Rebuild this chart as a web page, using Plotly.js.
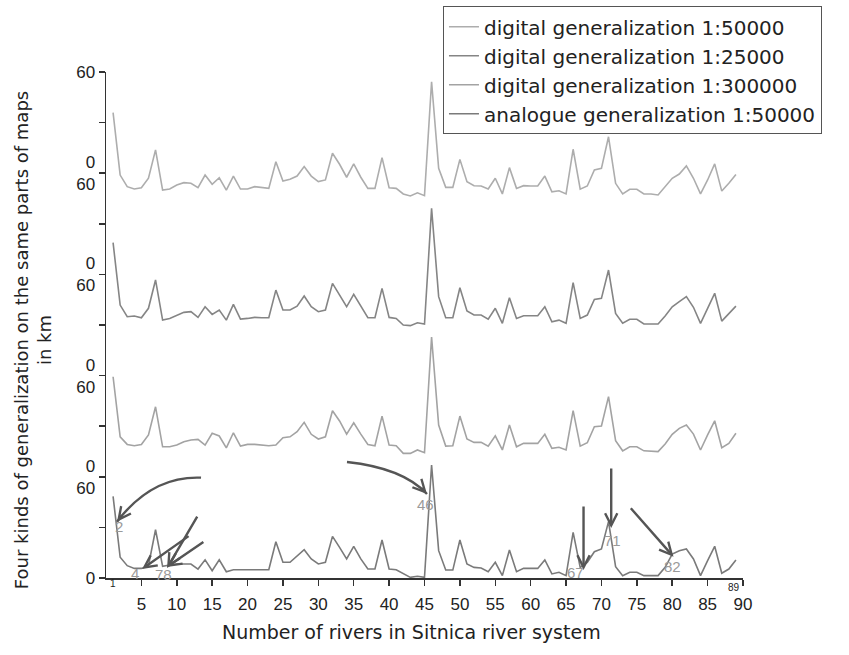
<!DOCTYPE html>
<html><head><meta charset="utf-8">
<script src="https://cdn.plot.ly/plotly-3.0.1.min.js"></script>
<style>html,body{margin:0;padding:0;background:#fff}#chart{width:849px;height:655px}</style>
</head><body><div id="chart"></div>
<script>
// ---- data ----
const rivers = [1,2,3,4,5,6,7,8,9,10,11,12,13,14,15,16,17,18,19,20,21,22,23,24,25,26,27,28,29,30,
  31,32,33,34,35,36,37,38,39,40,41,42,43,44,45,46,47,48,49,50,51,52,53,54,55,56,57,58,59,60,
  61,62,63,64,65,66,67,68,69,70,71,72,73,74,75,76,77,78,79,80,81,82,83,84,85,86,87,88,89];
const digital50000 = [50.6,13.6,6.7,5.3,6.1,11.7,28.5,4.7,5.3,7.7,
  9.1,8.7,6.1,13.6,8.1,12.0,4.7,13.0,5.3,5.3,
  6.7,6.3,5.7,21.5,10.1,11.1,13.0,18.6,13.0,9.7,
  10.7,26.5,20.0,12.3,20.2,12.3,5.7,5.7,23.9,6.1,
  5.7,2.4,1.2,3.1,1.4,68.9,17.6,6.3,6.3,22.9,
  9.7,7.3,7.1,5.3,11.7,2.4,18.0,5.7,7.3,7.1,
  7.1,13.0,3.7,4.3,2.4,28.9,5.2,7.1,16.6,17.6,
  36.3,8.7,2.4,5.2,5.2,2.4,2.4,1.8,6.7,11.7,
  14.2,19.0,11.7,2.4,10.7,20.2,4.1,8.7,14.0];
const digital25000 = [50.6,13.6,6.7,7.1,6.1,11.7,28.5,4.7,5.7,7.7,
  9.3,9.7,6.3,12.6,8.1,10.7,4.7,14.0,5.3,5.7,
  6.3,6.1,6.1,22.5,10.7,10.7,13.0,19.0,12.6,9.7,
  10.7,26.5,19.6,12.6,20.0,13.0,6.1,6.1,23.5,6.3,
  5.7,1.8,1.4,3.1,2.4,71.0,18.6,6.1,6.1,23.9,
  10.1,7.7,7.7,5.3,11.7,2.8,18.0,5.7,7.3,7.3,
  7.3,12.6,3.7,4.7,2.8,26.9,5.7,7.7,17.0,17.6,
  34.4,8.7,2.8,5.2,5.2,2.4,2.4,2.4,7.1,12.6,
  15.6,18.6,12.3,2.8,11.7,20.6,4.1,8.7,13.0];
const digital300000 = [46.4,10.8,6.3,5.5,6.3,11.9,28.6,4.9,4.9,5.9,
  7.9,8.9,9.3,5.9,12.9,11.3,4.3,13.2,5.3,6.3,
  6.3,5.9,5.5,5.9,10.3,10.8,13.8,19.4,12.3,9.5,
  10.8,26.3,20.2,12.4,19.1,12.4,6.3,5.5,23.1,5.9,
  5.5,1.0,1.0,3.0,1.4,70.0,17.8,5.3,5.5,23.1,
  9.5,7.5,7.5,5.3,11.4,3.0,17.8,4.9,6.9,6.9,
  6.9,12.3,4.0,4.6,3.0,26.3,5.3,7.3,16.8,17.2,
  34.6,8.5,2.5,4.9,4.9,2.5,2.4,2.0,6.5,12.3,
  15.8,17.8,12.4,3.0,11.9,20.3,4.3,6.9,12.9];
const analogue50000 = [48.4,12.3,7.3,5.7,5.7,7.3,28.6,6.9,7.7,8.3,
  8.3,8.3,5.3,10.8,4.3,10.8,3.7,4.9,4.9,4.9,
  4.9,4.9,4.9,21.5,9.3,9.3,13.2,16.8,11.3,8.3,
  9.3,24.7,18.2,11.3,18.8,11.3,5.3,5.3,22.5,5.3,
  4.9,2.4,0.4,1.0,0.4,67.0,16.2,4.7,4.7,22.5,
  8.3,6.3,5.9,3.7,9.3,1.4,16.6,3.7,5.7,5.7,
  5.7,10.7,2.4,3.4,1.4,27.1,6.3,9.3,15.6,17.2,
  33.4,6.7,1.4,3.4,3.4,1.4,1.4,1.4,6.3,14.2,
  16.2,17.2,11.3,1.4,10.3,18.8,2.8,5.3,10.7];
const seriesNames = ['digital generalization 1:50000','digital generalization 1:25000',
  'digital generalization 1:300000','analogue generalization 1:50000'];
const xTickVals = [5,10,15,20,25,30,35,40,45,50,55,60,65,70,75,80,85,90];
const yTickVals = [0,30,60,90,120,150,180,210,240,270,300];
const yTickText = ['0','','0<br>60','','0<br>60','','0<br>60','','0<br>60','','60'];
const markedRivers = ['2','4','78','46','67','71','82'];
const xTitle = 'Number of rivers in Sitnica river system';
const yTitle = 'Four kinds of generalization on the same parts of maps<br>in km';

// ---- style / layout constants ----
const seriesData = [digital50000, digital25000, digital300000, analogue50000];
const seriesColors = ['#adadad', '#858585', '#a3a3a3', '#7a7a7a'];
const stackOffset = [225.3, 148.2, 72.9, 0];   // baseline of each curve in main-axis units
const SPAN = 300;
const ARROW = '#555555';
const LABEL = '#9a9a9a';

const traces = seriesData.map((vals, k) => ({
  type: 'scatter', mode: 'lines', x: rivers, y: vals, name: seriesNames[k],
  xaxis: 'x', yaxis: 'y' + (k + 2),
  line: {color: seriesColors[k], width: 1.6}
}));

const layout = {
  width: 849, height: 655,
  margin: {l: 106, r: 106, t: 72, b: 77, autoexpand: false},
  paper_bgcolor: '#fff', plot_bgcolor: '#fff',
  font: {family: 'Liberation Sans, Arial, sans-serif', color: '#222'},
  showlegend: true,
  legend: {x: 0.529, y: 1.13, xanchor: 'left', yanchor: 'top',
    bgcolor: '#fff', bordercolor: '#555', borderwidth: 1,
    font: {family: 'DejaVu Sans, sans-serif', size: 20, color: '#222'},
    tracegroupgap: 0},
  xaxis: {range: [0, 90], tickvals: xTickVals, showline: true, linecolor: '#333', linewidth: 1.5,
    ticks: 'outside', ticklen: 6, tickwidth: 1.5, tickcolor: '#333', showgrid: false, zeroline: false,
    ticklabelstandoff: 4, tickfont: {size: 17, color: '#222'}},
  yaxis: {range: [0, SPAN], tickvals: yTickVals, ticktext: yTickText, showline: true, linecolor: '#333',
    linewidth: 1.5, ticks: 'outside', ticklen: 6, tickwidth: 1.5, tickcolor: '#333', showgrid: false,
    zeroline: false, tickfont: {size: 17, color: '#222'}},
  annotations: [], shapes: []
};
stackOffset.forEach((off, k) => {
  layout['yaxis' + (k + 2)] = {overlaying: 'y', range: [-off, SPAN - off], visible: false, fixedrange: true};
});

// straight arrows: [headX, headY(main units), tail dx px, tail dy px]
const straightArrows = [[8.63, 5.9, 31, -53], [5.1, 5.3, 48, -34], [8.6, 6.5, 38, -26],
  [67.47, 4.7, 0, -65], [71.38, 29.6, 0, -61], [80.18, 12.6, -44, -50]];
straightArrows.forEach(a => layout.annotations.push({x: a[0], y: a[1], xref: 'x', yref: 'y', ax: a[2], ay: a[3],
  text: '', showarrow: true, arrowhead: 5, arrowsize: 1, arrowwidth: 2.4, arrowcolor: ARROW, standoff: 0}));

// curved arrows: [headX, headY, tail dx, tail dy, ctrl dx, ctrl dy] (screen px, y down)
const curvedArrows = [[1.56, 33.4, 84, -44, 35, -46], [45.35, 49.8, -80, -32, -24, -26]];
curvedArrows.forEach(c => {
  layout.shapes.push({type: 'path', xref: 'x', yref: 'y', xsizemode: 'pixel', ysizemode: 'pixel',
    xanchor: c[0], yanchor: c[1], path: `M${c[2]},${-c[3]} Q${c[4]},${-c[5]} 0,0`,
    line: {color: ARROW, width: 2.4}});
  const n = Math.hypot(c[4], c[5]);
  layout.annotations.push({x: c[0], y: c[1], xref: 'x', yref: 'y', ax: c[4] / n * 10, ay: c[5] / n * 10,
    text: '', showarrow: true, arrowhead: 5, arrowsize: 1, arrowwidth: 2.4, arrowcolor: ARROW, standoff: 0});
});

// labels of marked rivers
const labelPos = [[1.79, 30.4], [4.15, 2.8], [8.1, 1.8], [45.1, 43.3], [66.3, 3.0], [71.5, 22.5], [80.0, 7.1]];
markedRivers.forEach((t, i) => layout.annotations.push({x: labelPos[i][0], y: labelPos[i][1], xref: 'x', yref: 'y',
  text: t, showarrow: false, font: {size: 15, color: LABEL}}));

// small end labels on x axis
layout.annotations.push({x: 1, y: -0.010, xref: 'x', yref: 'paper', text: String(rivers[0]), showarrow: false,
  font: {size: 10, color: '#222'}, xanchor: 'center', yanchor: 'middle'});
layout.annotations.push({x: 88.7, y: -0.018, xref: 'x', yref: 'paper', text: String(rivers[rivers.length - 1]), showarrow: false,
  font: {size: 10, color: '#222'}, xanchor: 'center', yanchor: 'middle'});

// axis titles
layout.annotations.push({x: 0.479, y: -0.107, xref: 'paper', yref: 'paper', text: xTitle, showarrow: false,
  xanchor: 'center', yanchor: 'middle',
  font: {family: 'DejaVu Sans, sans-serif', size: 19, color: '#222'}});
layout.annotations.push({x: -0.1146, y: 0.47, xref: 'paper', yref: 'paper', text: yTitle, showarrow: false,
  xanchor: 'center', yanchor: 'middle', textangle: -90,
  font: {family: 'DejaVu Sans, sans-serif', size: 18, color: '#222'}});

Plotly.newPlot('chart', traces, layout, {staticPlot: true, displayModeBar: false});
</script></body></html>
